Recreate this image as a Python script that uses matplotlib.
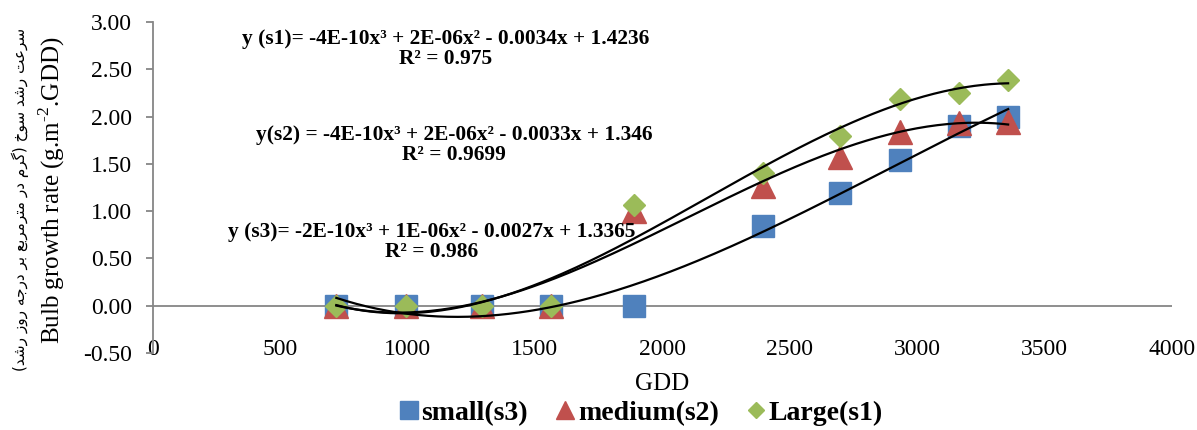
import numpy as np
import matplotlib.pyplot as plt
from matplotlib.lines import Line2D

# data
gdd = [720, 994, 1292, 1562, 1888, 2394, 2696, 2935, 3166, 3358]
small_s3 = [0, 0, 0, 0, 0, 0.84, 1.19, 1.54, 1.90, 2.00]
medium_s2 = [0, 0, 0, 0, 1.00, 1.27, 1.57, 1.84, 1.93, 1.94]
large_s1 = [0, 0, 0, 0, 1.07, 1.40, 1.79, 2.19, 2.25, 2.39]

eq_s1 = 'y (s1)= -4E-10x³ + 2E-06x² - 0.0034x + 1.4236\nR² = 0.975'
eq_s2 = 'y(s2) = -4E-10x³ + 2E-06x² - 0.0033x + 1.346\nR² = 0.9699'
eq_s3 = 'y (s3)= -2E-10x³ + 1E-06x² - 0.0027x + 1.3365\nR² = 0.986'

ylabel_fa = 'سرعت رشد سوخ (گرم در مترمربع بر درجه روز رشد)'
ylabel_en = 'Bulb growth rate (g.m$^{\\text{-2}}$.GDD)'

plt.rcParams['font.family'] = ['Liberation Serif', 'DejaVu Sans']
plt.rcParams['mathtext.fontset'] = 'custom'
plt.rcParams['mathtext.rm'] = 'Liberation Serif'


# matplotlib does no arabic shaping, so pick the contextual forms by hand
FORMS = {
    'س': '\uFEB1\uFEB2\uFEB3\uFEB4', 'ش': '\uFEB5\uFEB6\uFEB7\uFEB8',
    'ع': '\uFEC9\uFECA\uFECB\uFECC', 'ت': '\uFE95\uFE96\uFE97\uFE98',
    'خ': '\uFEA5\uFEA6\uFEA7\uFEA8', 'گ': '\uFB92\uFB93\uFB94\uFB95',
    'م': '\uFEE1\uFEE2\uFEE3\uFEE4', 'ب': '\uFE8F\uFE90\uFE91\uFE92',
    'ج': '\uFE9D\uFE9E\uFE9F\uFEA0', 'ه': '\uFEE9\uFEEA\uFEEB\uFEEC',
    'ر': '\uFEAD\uFEAE', 'د': '\uFEA9\uFEAA', 'و': '\uFEED\uFEEE',
    'ز': '\uFEAF\uFEB0',
}


def shape(s):
    out = []
    for i, c in enumerate(s):
        if c not in FORMS:
            out.append({'(': ')', ')': '('}.get(c, c))
            continue
        prev = s[i - 1] if i > 0 else ''
        nxt = s[i + 1] if i + 1 < len(s) else ''
        pj = prev in FORMS and len(FORMS[prev]) == 4
        nj = nxt in FORMS and len(FORMS[c]) == 4
        f = FORMS[c]
        if pj and nj:
            out.append(f[3])
        elif nj:
            out.append(f[2])
        elif pj:
            out.append(f[1])
        else:
            out.append(f[0])
    return ''.join(out[::-1])


fig = plt.figure(figsize=(11.97, 4.30), dpi=100)
ax = fig.add_axes([0.1278, 0.179, 0.851, 0.770])

blue, red, green = '#4F81BD', '#C0504D', '#9BBB59'
ax.plot(gdd, small_s3, 's', color=blue, ms=16.5, mec=blue, zorder=3)
ax.plot(gdd, medium_s2, '^', color=red, ms=17, mec=red, zorder=3)
ax.plot(gdd, large_s1, 'D', color=green, ms=11.5, mec=green, zorder=3)

# cubic trendlines
xs = np.linspace(min(gdd), max(gdd), 200)
for ys in (small_s3, medium_s2, large_s1):
    c = np.polyfit(gdd, ys, 3)
    ax.plot(xs, np.polyval(c, xs), color='black', lw=1.6, zorder=4)

ax.set_xlim(0, 4000)
ax.set_ylim(-0.5, 3.0)
ax.set_xticks(np.arange(0, 4001, 500))
ax.set_yticks(np.arange(-0.5, 3.01, 0.5))
ax.yaxis.set_major_formatter(plt.FormatStrFormatter('%.2f'))

gray = '#868686'
for s in ('top', 'right', 'bottom'):
    ax.spines[s].set_visible(False)
ax.spines['left'].set_color(gray)
ax.spines['left'].set_linewidth(1.3)
ax.axhline(0, color=gray, lw=1.3, zorder=1)
ax.tick_params(axis='y', length=5, width=1.3, color=gray, pad=10, labelsize=17)
ax.tick_params(axis='x', length=0, pad=-10, labelsize=17)

ax.set_xlabel('GDD', fontsize=18, labelpad=9)

fig.text(52 / 1197, 1 - 190 / 430, ylabel_en, rotation=90, ha='center',
         va='center', fontsize=18)
fig.text(20 / 1197, 1 - 199 / 430, shape(ylabel_fa), rotation=90,
         ha='center', va='center', fontsize=11, family=['DejaVu Sans'])

eq_kw = dict(ha='center', va='center', fontsize=15.4, fontweight='bold',
             multialignment='center', linespacing=1.05)
fig.text(446 / 1197, 1 - 49 / 430, eq_s1, **eq_kw)
fig.text(454 / 1197, 1 - 145 / 430, eq_s2, **eq_kw)
fig.text(432 / 1197, 1 - 242 / 430, eq_s3, **eq_kw)

handles = [
    Line2D([], [], ls='none', marker='s', color=blue, ms=12.5),
    Line2D([], [], ls='none', marker='^', color=red, ms=13),
    Line2D([], [], ls='none', marker='D', color=green, ms=8.5),
]
fig.legend(handles, ['small(s3)', 'medium(s2)', 'Large(s1)'], ncol=3,
           loc='center', bbox_to_anchor=(641 / 1197, 1 - 413 / 430),
           frameon=False, handlelength=0.7, handletextpad=0.1,
           columnspacing=1.0, borderaxespad=0,
           prop={'weight': 'bold', 'size': 20})

fig.savefig('out.png', dpi=100)
